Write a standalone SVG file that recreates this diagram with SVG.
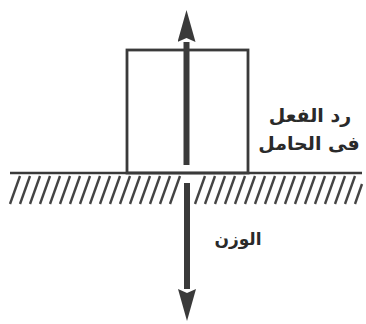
<svg xmlns="http://www.w3.org/2000/svg" width="366" height="324" viewBox="0 0 366 324">
<style>
.ink{stroke:#3a3a3a;fill:none}
.hatch{stroke:#444;stroke-width:2.4}
.lbl{font-family:"DejaVu Sans",sans-serif;fill:#2a2a2a;text-anchor:middle;font-weight:bold}
</style>
<defs>
<marker id="ah" viewBox="0 0 32 18" refX="0" refY="9" markerWidth="32" markerHeight="18" orient="auto" markerUnits="userSpaceOnUse">
<path d="M0,0 L32,9 L0,18 L4,9 Z" fill="#3a3a3a"/>
</marker>
</defs>
<rect width="366" height="324" fill="#ffffff"/>
<g id="ground">
<g class="hatch">
<line x1="10" y1="204" x2="20" y2="176"/><line x1="20" y1="204" x2="30" y2="176"/><line x1="30" y1="204" x2="40" y2="176"/><line x1="40" y1="204" x2="50" y2="176"/><line x1="50" y1="204" x2="60" y2="176"/><line x1="60" y1="204" x2="70" y2="176"/><line x1="70" y1="204" x2="80" y2="176"/><line x1="80" y1="204" x2="90" y2="176"/><line x1="90" y1="204" x2="100" y2="176"/><line x1="100" y1="204" x2="110" y2="176"/><line x1="110" y1="204" x2="120" y2="176"/><line x1="120" y1="204" x2="130" y2="176"/><line x1="130" y1="204" x2="140" y2="176"/><line x1="140" y1="204" x2="150" y2="176"/><line x1="150" y1="204" x2="160" y2="176"/><line x1="160" y1="204" x2="170" y2="176"/><line x1="170" y1="204" x2="180" y2="176"/><line x1="195" y1="204" x2="205" y2="176"/><line x1="205" y1="204" x2="215" y2="176"/><line x1="215" y1="204" x2="225" y2="176"/><line x1="225" y1="204" x2="235" y2="176"/><line x1="235" y1="204" x2="245" y2="176"/><line x1="245" y1="204" x2="255" y2="176"/><line x1="255" y1="204" x2="265" y2="176"/><line x1="265" y1="204" x2="275" y2="176"/><line x1="275" y1="204" x2="285" y2="176"/><line x1="285" y1="204" x2="295" y2="176"/><line x1="295" y1="204" x2="305" y2="176"/><line x1="305" y1="204" x2="315" y2="176"/><line x1="315" y1="204" x2="325" y2="176"/><line x1="325" y1="204" x2="335" y2="176"/><line x1="335" y1="204" x2="345" y2="176"/><line x1="345" y1="204" x2="355" y2="176"/><line x1="355" y1="204" x2="362" y2="184"/>
</g>
<line class="ink" x1="10" y1="173" x2="362" y2="173" stroke-width="2.5"/>
</g>
<g id="block">
<rect class="ink" x="127" y="50" width="121" height="123" stroke-width="2.8"/>
</g>
<g id="connectors">
<line class="ink" x1="186.5" y1="165" x2="186.5" y2="42" stroke-width="6" marker-end="url(#ah)"/>
<line class="ink" x1="187" y1="183" x2="187" y2="289" stroke-width="6" marker-end="url(#ah)"/>
</g>
<g id="label-reaction">
<text class="lbl" x="310" y="122" font-size="19">رد الفعل</text>
<text class="lbl" x="309" y="150" font-size="19">فى الحامل</text>
</g>
<g id="label-weight">
<text class="lbl" x="238" y="245" font-size="17">الوزن</text>
</g>
</svg>
